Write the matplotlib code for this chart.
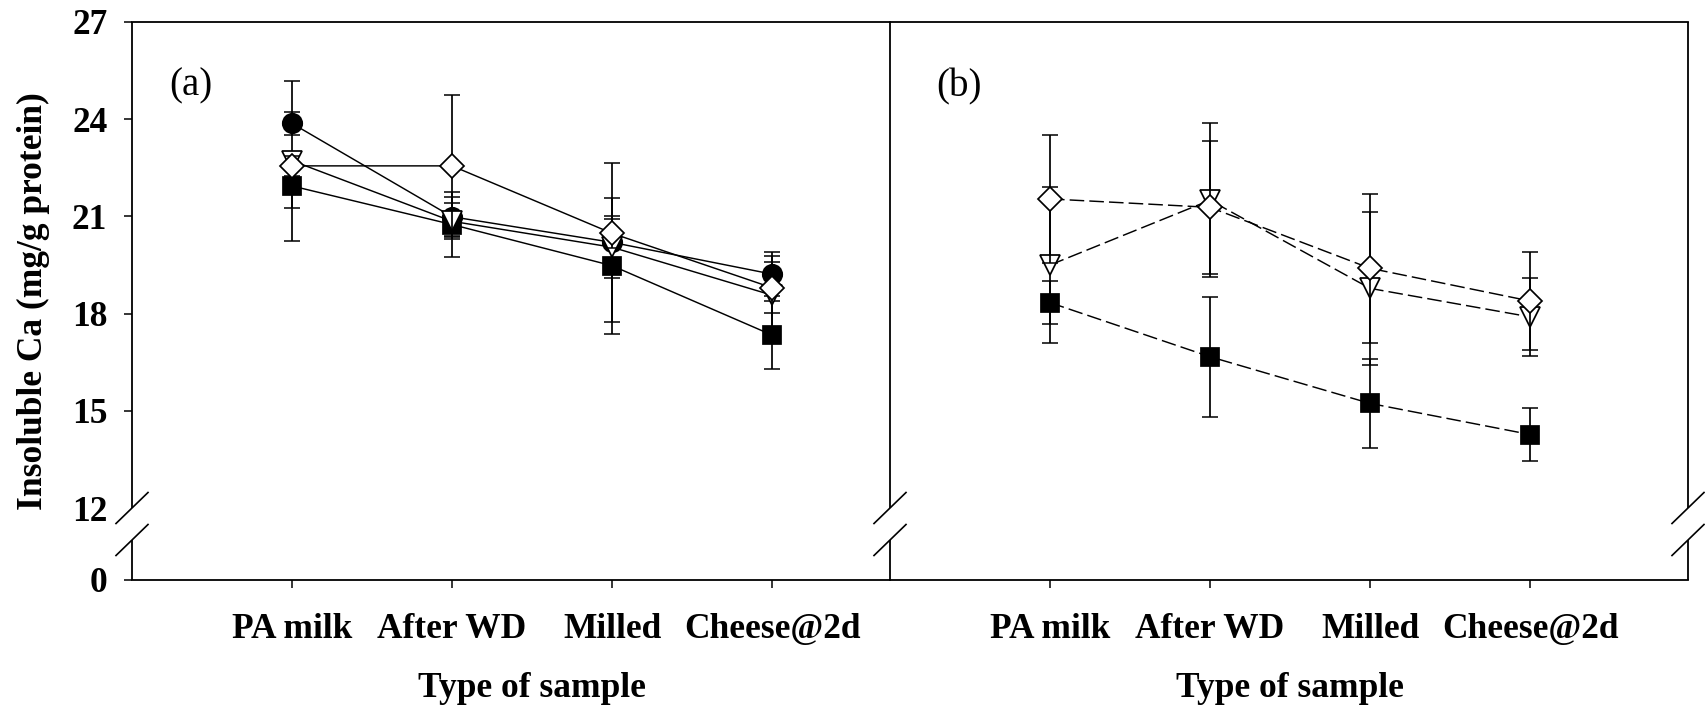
import numpy as np
import matplotlib
matplotlib.use("Agg")
import matplotlib.pyplot as plt
from matplotlib.lines import Line2D

# ---------------- data ----------------
categories = ["PA milk", "After WD", "Milled", "Cheese@2d"]
x_pos = [1, 2, 3, 4]

# panel (a)  (solid lines)
a_circle = [23.87, 20.99, 20.20, 19.22]
a_circle_err = [0.35, 0.60, 2.45, 0.69]
a_square = [21.94, 20.75, 19.48, 17.34]
a_square_err = [0.69, 1.00, 2.10, 1.06]
a_tri = [22.72, 20.85, 20.05, 18.57]
a_tri_err = [2.47, 0.55, 0.95, 1.20]
a_diamond = [22.56, 22.56, 20.48, 18.80]
a_diamond_err = [0.30, 2.18, 0.45, 0.78]

# panel (b)  (dashed lines)
b_square = [18.34, 16.67, 15.23, 14.27]
b_square_err = [0.66, 1.85, 1.37, 0.83]
b_tri = [19.50, 21.50, 18.78, 17.90]
b_tri_err = [2.40, 2.37, 2.37, 1.20]
b_diamond = [21.54, 21.28, 19.40, 18.39]
b_diamond_err = [1.97, 2.05, 2.30, 1.50]

y_ticks = [0, 12, 15, 18, 21, 24, 27]
y_label = "Insoluble Ca (mg/g protein)"
x_label = "Type of sample"

# ---------------- style ----------------
plt.rcParams['font.family'] = ['Liberation Serif', 'DejaVu Serif']
W, H = 1705, 707
fig = plt.figure(figsize=(W / 100, H / 100), dpi=100)

BREAK = 12.0
LOW_SPAN = 2.22  # compressed height (in upper-axis units) of 0..12


def fwd(y):
    y = np.asarray(y, dtype=float)
    return np.where(y >= BREAK, y, BREAK - (BREAK - y) * LOW_SPAN / BREAK)


def inv(f):
    f = np.asarray(f, dtype=float)
    return np.where(f >= BREAK, f, BREAK - (BREAK - f) * BREAK / LOW_SPAN)


top_px, bot_px = 22, 580
ax_a = fig.add_axes([132 / W, 1 - bot_px / H, 758 / W, (bot_px - top_px) / H])
ax_b = fig.add_axes([890 / W, 1 - bot_px / H, 798 / W, (bot_px - top_px) / H])

SPW = 1.3
FS = 25.5
ms = dict(o=14, s=13.5, v=15, D=12.5)


def series(ax, y, err, marker, filled, ls, z):
    ax.errorbar(x_pos, y, yerr=err, fmt='none', ecolor='k', elinewidth=1.25,
                capsize=5.8, capthick=1.1, zorder=z - 0.1, clip_on=False)
    ax.plot(x_pos, y, linestyle=ls, color='k', lw=1.05, marker=marker,
            ms=ms[marker], mfc='k' if filled else 'white', mec='k', mew=1.25,
            zorder=z, clip_on=False)


solid = '-'
dashed = (0, (10, 3.5))
series(ax_a, a_circle, a_circle_err, 'o', True, solid, 3)
series(ax_a, a_square, a_square_err, 's', True, solid, 4)
series(ax_a, a_tri, a_tri_err, 'v', False, solid, 5)
series(ax_a, a_diamond, a_diamond_err, 'D', False, solid, 6)

series(ax_b, b_square, b_square_err, 's', True, dashed, 4)
series(ax_b, b_tri, b_tri_err, 'v', False, dashed, 5)
series(ax_b, b_diamond, b_diamond_err, 'D', False, dashed, 6)

for ax, xmax in ((ax_a, 758 / 160), (ax_b, 798 / 160)):
    ax.set_yscale('function', functions=(fwd, inv))
    ax.set_ylim(0, 27)
    ax.set_xlim(0, xmax)
    ax.set_xticks(x_pos)
    ax.set_xticklabels(categories, fontsize=FS, fontweight='bold')
    ax.tick_params(axis='x', direction='out', length=5.5, width=1.1, pad=18)
    for s in ('left', 'right'):
        ax.spines[s].set_visible(False)
    for s in ('top', 'bottom'):
        ax.spines[s].set_linewidth(SPW)
    ax.text(2.5, -0.194, x_label, transform=ax.get_xaxis_transform(),
            ha='center', va='center', fontsize=FS, fontweight='bold')

ax_a.set_yticks(y_ticks)
ax_a.set_yticklabels([str(t) for t in y_ticks], fontsize=FS, fontweight='bold')
ax_a.tick_params(axis='y', direction='out', length=5.8, width=1.1, pad=12)
ax_a.yaxis.set_minor_locator(matplotlib.ticker.NullLocator())
ax_b.set_yticks([])
ax_b.yaxis.set_minor_locator(matplotlib.ticker.NullLocator())
ax_a.yaxis.get_major_ticks()[1].tick1line.set_visible(False)


# vertical spines with axis break
def fpx(x, y):
    return x / W, 1 - y / H


def vspine(xpx):
    kw = dict(transform=fig.transFigure, color='k', lw=SPW, solid_capstyle='butt')
    x0, y0 = fpx(xpx, top_px)
    _, y1 = fpx(xpx, 508)
    fig.add_artist(Line2D([x0, x0], [y0, y1], **kw))
    _, y2 = fpx(xpx, 540)
    _, y3 = fpx(xpx, bot_px)
    fig.add_artist(Line2D([x0, x0], [y2, y3], **kw))
    for yc in (508, 540):
        xa, ya = fpx(xpx - 16, yc + 15.5)
        xb, yb = fpx(xpx + 16, yc - 15.5)
        fig.add_artist(Line2D([xa, xb], [ya, yb], transform=fig.transFigure,
                              color='k', lw=1.2))


for xp in (132, 890, 1688):
    vspine(xp)

fig.text(33 / W, 1 - 301 / H, y_label, rotation=90, ha='center', va='center',
         fontsize=FS, fontweight='bold')
fig.text(191 / W, 1 - 86 / H, "(a)", ha='center', va='center', fontsize=28)
fig.text(959 / W, 1 - 87 / H, "(b)", ha='center', va='center', fontsize=28)

fig.savefig("out.png", dpi=100)
